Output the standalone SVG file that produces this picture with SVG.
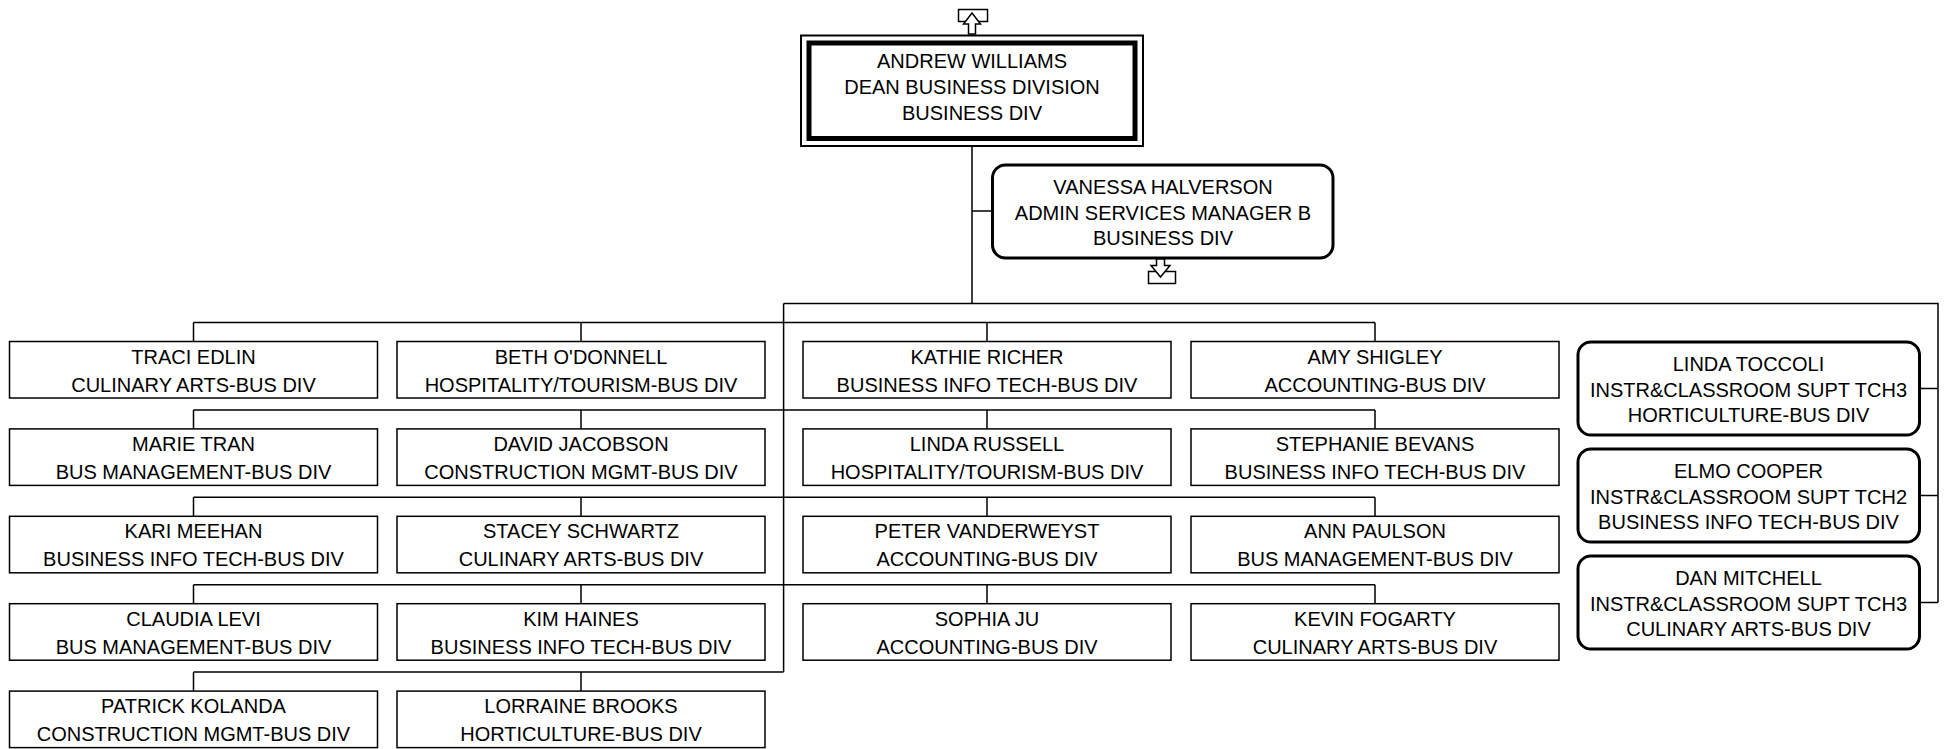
<svg xmlns="http://www.w3.org/2000/svg" width="1944" height="749" viewBox="0 0 1944 749">
<style>
.box{fill:#fff;stroke:#000;stroke-width:1.5}
.rbox{fill:#fff;stroke:#000;stroke-width:3}
.ln{fill:none;stroke:#000;stroke-width:1.5}
.ic{fill:#fff;stroke:#000;stroke-width:1.5}
text{font-family:"Liberation Sans",Arial,sans-serif;font-size:20px;text-anchor:middle;fill:#000}
</style>
<rect width="1944" height="749" fill="#fff"/>
<g id="connectors">
<path class="ln" d="M972,146 V303.5 M783.6,303.5 H1938 V602.5 M783.6,303.5 V672.1 M972,211 H992.5"/>
<path class="ln" d="M1919.5,388.5 H1938 M1919.5,495.5 H1938 M1919.5,602.5 H1938"/>
<path class="ln" d="M193.5,322.5 H1375 M193.5,322.5 V341.5 M581,322.5 V341.5 M987,322.5 V341.5 M1375,322.5 V341.5"/>
<path class="ln" d="M193.5,409.9 H1375 M193.5,409.9 V428.9 M581,409.9 V428.9 M987,409.9 V428.9 M1375,409.9 V428.9"/>
<path class="ln" d="M193.5,497.3 H1375 M193.5,497.3 V516.3 M581,497.3 V516.3 M987,497.3 V516.3 M1375,497.3 V516.3"/>
<path class="ln" d="M193.5,584.7 H1375 M193.5,584.7 V603.7 M581,584.7 V603.7 M987,584.7 V603.7 M1375,584.7 V603.7"/>
<path class="ln" d="M193.5,672.1 H783.6 M193.5,672.1 V691.1 M581,672.1 V691.1"/>
</g>
<g id="icon-up">
<rect class="ic" x="958.5" y="9.5" width="29" height="12"/>
<polygon class="ic" points="972,13 980.5,24 975.5,24 975.5,34 968.5,34 968.5,24 963.5,24"/>
</g>
<g id="andrew-williams">
<rect x="801" y="35.5" width="342" height="110.5" fill="#fff" stroke="#000" stroke-width="2"/>
<rect x="809" y="43" width="326" height="95.5" fill="none" stroke="#000" stroke-width="5"/>
<text x="972" y="68">ANDREW WILLIAMS</text>
<text x="972" y="94">DEAN BUSINESS DIVISION</text>
<text x="972" y="120">BUSINESS DIV</text>
</g>
<g id="vanessa-halverson">
<rect class="rbox" x="992.5" y="165" width="340.5" height="93" rx="13"/>
<text x="1163" y="194">VANESSA HALVERSON</text>
<text x="1163" y="220">ADMIN SERVICES MANAGER B</text>
<text x="1163" y="245">BUSINESS DIV</text>
</g>
<g id="icon-down">
<rect class="ic" x="1148.5" y="271.5" width="27" height="12"/>
<polygon class="ic" points="1156.5,259 1164.5,259 1164.5,265.5 1170,265.5 1160.5,277 1151,265.5 1156.5,265.5"/>
</g>
<g id="traci-edlin"><rect class="box" x="9.5" y="341.5" width="368" height="56.5"/><text x="193.5" y="363.5">TRACI EDLIN</text><text x="193.5" y="391.5">CULINARY ARTS-BUS DIV</text></g>
<g id="beth-odonnell"><rect class="box" x="397" y="341.5" width="368" height="56.5"/><text x="581" y="363.5">BETH O'DONNELL</text><text x="581" y="391.5">HOSPITALITY/TOURISM-BUS DIV</text></g>
<g id="kathie-richer"><rect class="box" x="803" y="341.5" width="368" height="56.5"/><text x="987" y="363.5">KATHIE RICHER</text><text x="987" y="391.5">BUSINESS INFO TECH-BUS DIV</text></g>
<g id="amy-shigley"><rect class="box" x="1191" y="341.5" width="368" height="56.5"/><text x="1375" y="363.5">AMY SHIGLEY</text><text x="1375" y="391.5">ACCOUNTING-BUS DIV</text></g>
<g id="marie-tran"><rect class="box" x="9.5" y="428.9" width="368" height="56.5"/><text x="193.5" y="450.9">MARIE TRAN</text><text x="193.5" y="478.9">BUS MANAGEMENT-BUS DIV</text></g>
<g id="david-jacobson"><rect class="box" x="397" y="428.9" width="368" height="56.5"/><text x="581" y="450.9">DAVID JACOBSON</text><text x="581" y="478.9">CONSTRUCTION MGMT-BUS DIV</text></g>
<g id="linda-russell"><rect class="box" x="803" y="428.9" width="368" height="56.5"/><text x="987" y="450.9">LINDA RUSSELL</text><text x="987" y="478.9">HOSPITALITY/TOURISM-BUS DIV</text></g>
<g id="stephanie-bevans"><rect class="box" x="1191" y="428.9" width="368" height="56.5"/><text x="1375" y="450.9">STEPHANIE BEVANS</text><text x="1375" y="478.9">BUSINESS INFO TECH-BUS DIV</text></g>
<g id="kari-meehan"><rect class="box" x="9.5" y="516.3" width="368" height="56.5"/><text x="193.5" y="538.3">KARI MEEHAN</text><text x="193.5" y="566.3">BUSINESS INFO TECH-BUS DIV</text></g>
<g id="stacey-schwartz"><rect class="box" x="397" y="516.3" width="368" height="56.5"/><text x="581" y="538.3">STACEY SCHWARTZ</text><text x="581" y="566.3">CULINARY ARTS-BUS DIV</text></g>
<g id="peter-vanderweyst"><rect class="box" x="803" y="516.3" width="368" height="56.5"/><text x="987" y="538.3">PETER VANDERWEYST</text><text x="987" y="566.3">ACCOUNTING-BUS DIV</text></g>
<g id="ann-paulson"><rect class="box" x="1191" y="516.3" width="368" height="56.5"/><text x="1375" y="538.3">ANN PAULSON</text><text x="1375" y="566.3">BUS MANAGEMENT-BUS DIV</text></g>
<g id="claudia-levi"><rect class="box" x="9.5" y="603.7" width="368" height="56.5"/><text x="193.5" y="625.7">CLAUDIA LEVI</text><text x="193.5" y="653.7">BUS MANAGEMENT-BUS DIV</text></g>
<g id="kim-haines"><rect class="box" x="397" y="603.7" width="368" height="56.5"/><text x="581" y="625.7">KIM HAINES</text><text x="581" y="653.7">BUSINESS INFO TECH-BUS DIV</text></g>
<g id="sophia-ju"><rect class="box" x="803" y="603.7" width="368" height="56.5"/><text x="987" y="625.7">SOPHIA JU</text><text x="987" y="653.7">ACCOUNTING-BUS DIV</text></g>
<g id="kevin-fogarty"><rect class="box" x="1191" y="603.7" width="368" height="56.5"/><text x="1375" y="625.7">KEVIN FOGARTY</text><text x="1375" y="653.7">CULINARY ARTS-BUS DIV</text></g>
<g id="patrick-kolanda"><rect class="box" x="9.5" y="691.1" width="368" height="56.5"/><text x="193.5" y="713.1">PATRICK KOLANDA</text><text x="193.5" y="741.1">CONSTRUCTION MGMT-BUS DIV</text></g>
<g id="lorraine-brooks"><rect class="box" x="397" y="691.1" width="368" height="56.5"/><text x="581" y="713.1">LORRAINE BROOKS</text><text x="581" y="741.1">HORTICULTURE-BUS DIV</text></g>
<g id="linda-toccoli"><rect class="rbox" x="1578" y="342" width="341.5" height="93" rx="13"/><text x="1748.5" y="370.5">LINDA TOCCOLI</text><text x="1748.5" y="396.5">INSTR&amp;CLASSROOM SUPT TCH3</text><text x="1748.5" y="422">HORTICULTURE-BUS DIV</text></g>
<g id="elmo-cooper"><rect class="rbox" x="1578" y="449" width="341.5" height="93" rx="13"/><text x="1748.5" y="477.5">ELMO COOPER</text><text x="1748.5" y="503.5">INSTR&amp;CLASSROOM SUPT TCH2</text><text x="1748.5" y="529">BUSINESS INFO TECH-BUS DIV</text></g>
<g id="dan-mitchell"><rect class="rbox" x="1578" y="556" width="341.5" height="93" rx="13"/><text x="1748.5" y="584.5">DAN MITCHELL</text><text x="1748.5" y="610.5">INSTR&amp;CLASSROOM SUPT TCH3</text><text x="1748.5" y="636">CULINARY ARTS-BUS DIV</text></g>
</svg>
